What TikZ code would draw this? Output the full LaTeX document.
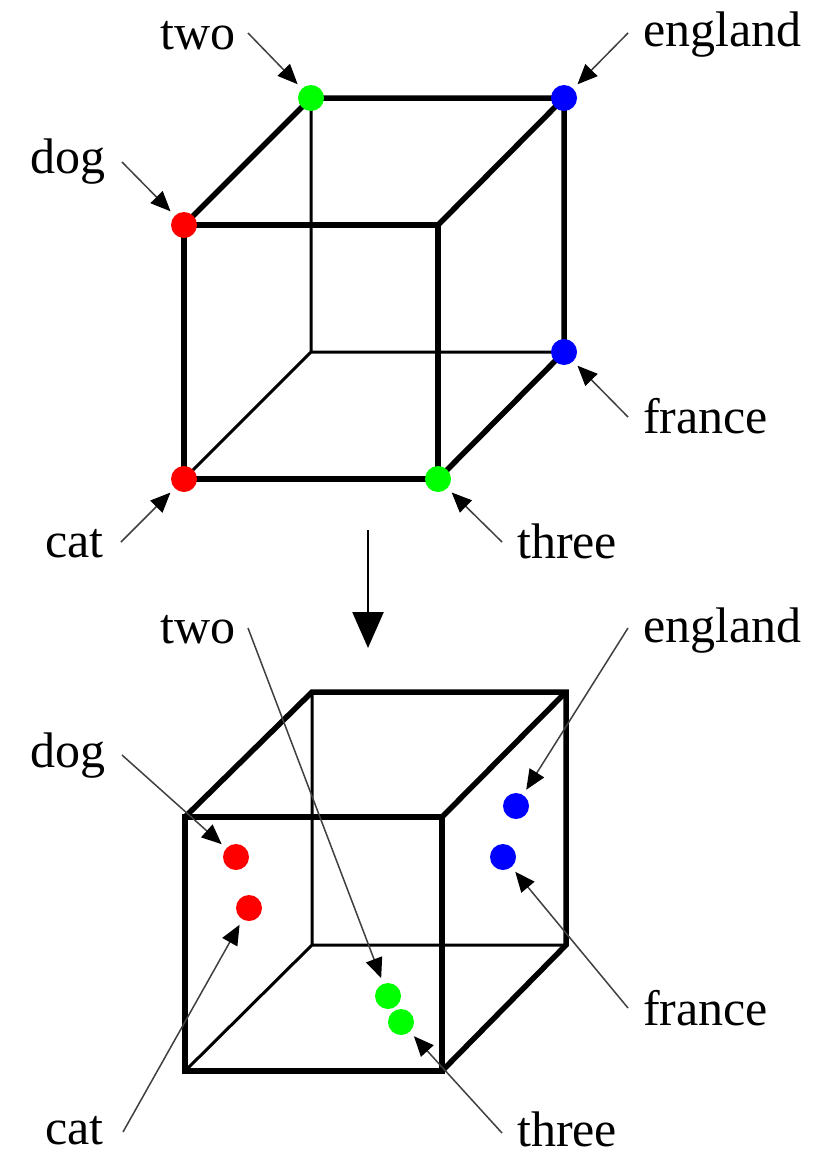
\documentclass[tikz,border=0pt]{standalone}
\usepackage{fontspec}
\setmainfont{Liberation Serif}
\usetikzlibrary{arrows.meta}
\begin{document}
\begin{tikzpicture}[x=1pt,y=-1pt,
 thickedge/.style={line width=5.5pt},
 thinedge/.style={line width=3pt},
 dot/.style={circle,inner sep=0pt,minimum size=26pt},
 lbl/.style={anchor=base west,inner sep=0pt,font=\fontsize{50}{60}\selectfont},
 pointer/.style={draw=black!75,line width=1.5pt,-{Triangle[length=20pt,width=17pt,color=black]},shorten >=6pt},
]
\fill[white] (0,0) rectangle (831,1156);
\useasboundingbox (0,0) rectangle (831,1156);

% ---------- top cube ----------
\coordinate (tFTL) at (184,225); \coordinate (tFTR) at (438,225);
\coordinate (tFBL) at (184,479); \coordinate (tFBR) at (438,479);
\coordinate (tBTL) at (311,98);  \coordinate (tBTR) at (564,98);
\coordinate (tBBL) at (311,352); \coordinate (tBBR) at (564,352);
\draw[thinedge] (tBTL) -- (tBBL) -- (tBBR) (tFBL) -- (tBBL);
\draw[thickedge] (tFTL) -- (tFTR) -- (tFBR) -- (tFBL) -- cycle;
\draw[thickedge] (tFTL) -- (tBTL) -- (tBTR) -- (tBBR) -- (tFBR);
\draw[thickedge] (tBTR) -- (tFTR);

\node[dot,fill=green] (ttwo) at (tBTL) {};
\node[dot,fill=blue] (tengland) at (tBTR) {};
\node[dot,fill=red] (tdog) at (tFTL) {};
\node[dot,fill=blue] (tfrance) at (tBBR) {};
\node[dot,fill=red] (tcat) at (tFBL) {};
\node[dot,fill=green] (tthree) at (tFBR) {};

\node[lbl] (ltwo) at (160,50) {two};
\node[lbl] (ldog) at (30,173) {dog};
\node[lbl] (lengland) at (643,47) {england};
\node[lbl] (lfrance) at (643,433) {france};
\node[lbl] (lthree) at (517,558) {three};
\node[lbl] (lcat) at (45,557) {cat};

\coordinate (stwo) at (248,33);
\coordinate (sdog) at (122,162);
\coordinate (sengland) at (628,33);
\coordinate (sfrance) at (628,417);
\coordinate (sthree) at (502,542);
\coordinate (scat) at (121,542);
\draw[pointer] (stwo) -- (ttwo);
\draw[pointer] (sdog) -- (tdog);
\draw[pointer] (sengland) -- (tengland);
\draw[pointer] (sfrance) -- (tfrance);
\draw[pointer] (sthree) -- (tthree);
\draw[pointer] (scat) -- (tcat);

% ---------- middle arrow ----------
\coordinate (mtop) at (368,530);
\coordinate (mbot) at (368,648);
\draw[line width=2.5pt,-{Triangle[length=36pt,width=31pt]}] (mtop) -- (mbot);

% ---------- bottom cube ----------
\coordinate (bFTL) at (185,817); \coordinate (bFTR) at (442,817);
\coordinate (bFBL) at (185,1071); \coordinate (bFBR) at (442,1071);
\coordinate (bBTL) at (312,692);  \coordinate (bBTR) at (566,692);
\coordinate (bBBL) at (312,945); \coordinate (bBBR) at (566,945);
\draw[thinedge] (bBTL) -- (bBBL) -- (bBBR) (bFBL) -- (bBBL);
\draw[thickedge] (bFTL) -- (bFTR) -- (bFBR) -- (bFBL) -- cycle;
\draw[thickedge] (bFTL) -- (bBTL) -- (bBTR) -- (bBBR) -- (bFBR);
\draw[thickedge] (bBTR) -- (bFTR);

\node[dot,fill=red] (bdog) at (236,857) {};
\node[dot,fill=red] (bcat) at (249,908) {};
\node[dot,fill=blue] (bengland) at (516,806) {};
\node[dot,fill=blue] (bfrance) at (503,857) {};
\node[dot,fill=green] (btwo) at (388,996) {};
\node[dot,fill=green] (bthree) at (401,1022) {};

\node[lbl] (mtwo) at (160,643) {two};
\node[lbl] (mdog) at (30,767) {dog};
\node[lbl] (mengland) at (643,642) {england};
\node[lbl] (mfrance) at (643,1025) {france};
\node[lbl] (mthree) at (517,1146) {three};
\node[lbl] (mcat) at (45,1144) {cat};

\coordinate (utwo) at (248,628);
\coordinate (udog) at (122,755);
\coordinate (uengland) at (628,628);
\coordinate (ufrance) at (628,1008);
\coordinate (uthree) at (502,1133);
\coordinate (ucat) at (123,1132);
\draw[pointer] (utwo) -- (btwo);
\draw[pointer] (udog) -- (bdog);
\draw[pointer] (uengland) -- (bengland);
\draw[pointer] (ufrance) -- (bfrance);
\draw[pointer] (uthree) -- (bthree);
\draw[pointer] (ucat) -- (bcat);
\end{tikzpicture}
\end{document}
